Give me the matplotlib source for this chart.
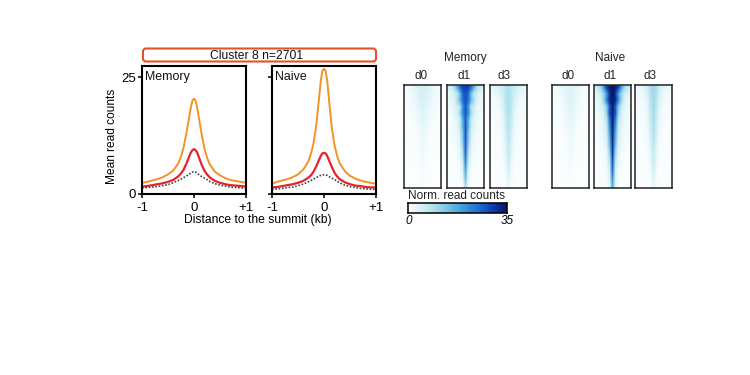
import numpy as np
import matplotlib
matplotlib.use('Agg')
import matplotlib.pyplot as plt
from matplotlib.colors import LinearSegmentedColormap
from matplotlib.patches import FancyBboxPatch

plt.rcParams['font.family'] = ['Liberation Sans', 'DejaVu Sans']

W, H = 750, 375

# line profiles
dist = [-1, -0.9, -0.8, -0.7, -0.6, -0.5, -0.4, -0.3, -0.25, -0.2, -0.15, -0.1, -0.06, -0.03, 0,
        0.03, 0.06, 0.1, 0.15, 0.2, 0.25, 0.3, 0.4, 0.5, 0.6, 0.7, 0.8, 0.9, 1]
mem_d1 = [2.4, 2.6, 2.9, 3.2, 3.6, 4.2, 5.0, 6.6, 8.0, 10.0, 12.8, 16.0, 18.6, 20.0, 20.4,
          20.0, 18.6, 15.9, 12.6, 9.8, 7.8, 6.4, 4.8, 4.0, 3.4, 3.0, 2.8, 2.6, 2.4]
mem_d3 = [1.6, 1.7, 1.9, 2.1, 2.3, 2.6, 3.0, 3.8, 4.4, 5.2, 6.4, 7.8, 8.9, 9.4, 9.6,
          9.4, 8.9, 7.7, 6.2, 5.0, 4.2, 3.6, 2.8, 2.4, 2.1, 1.9, 1.8, 1.7, 1.6]
mem_d0 = [1.3, 1.4, 1.5, 1.6, 1.8, 2.0, 2.4, 2.9, 3.2, 3.5, 3.8, 4.2, 4.5, 4.7, 4.8,
          4.7, 4.5, 4.1, 3.7, 3.4, 3.1, 2.7, 2.2, 1.9, 1.7, 1.5, 1.4, 1.3, 1.3]
nai_d1 = [2.2, 2.6, 2.9, 3.2, 3.6, 4.2, 5.2, 7.0, 8.6, 11.0, 14.6, 20.0, 24.4, 26.4, 26.8,
          26.4, 24.4, 19.8, 14.2, 10.6, 8.2, 6.6, 4.9, 3.9, 3.3, 2.9, 2.6, 2.4, 2.2]
nai_d3 = [1.4, 1.5, 1.7, 1.9, 2.1, 2.4, 2.8, 3.5, 4.0, 4.8, 5.9, 7.2, 8.2, 8.7, 8.8,
          8.7, 8.2, 7.1, 5.8, 4.6, 3.8, 3.2, 2.5, 2.1, 1.8, 1.7, 1.5, 1.4, 1.4]
nai_d0 = [1.0, 1.1, 1.2, 1.4, 1.5, 1.8, 2.1, 2.6, 2.9, 3.2, 3.5, 3.8, 4.0, 4.1, 4.1,
          4.1, 4.0, 3.7, 3.4, 3.1, 2.8, 2.4, 1.9, 1.6, 1.4, 1.2, 1.1, 1.0, 1.0]

# heatmap half rows: summit outwards to panel edge, top row first
hm_mem_d0 = [[5, 5, 4, 3, 2, 1.5, 1], [5, 4.5, 3.5, 2.5, 1.5, 1, 0.8], [4, 4, 3, 2, 1.2, 0.8, 0.6],
             [4, 3.5, 2.5, 1.5, 1, 0.6, 0.5], [3.5, 3, 2, 1.2, 0.7, 0.5, 0.4], [3.5, 2.5, 1.5, 0.8, 0.5, 0.4, 0.3],
             [3, 2, 1, 0.6, 0.4, 0.3, 0.2], [2.5, 1.5, 0.8, 0.4, 0.3, 0.2, 0.2], [2.5, 1.2, 0.6, 0.3, 0.2, 0.2, 0.1],
             [2, 1, 0.5, 0.3, 0.2, 0.1, 0.1], [2, 0.8, 0.4, 0.2, 0.1, 0.1, 0.1], [1.5, 0.6, 0.3, 0.2, 0.1, 0.1, 0],
             [1.2, 0.5, 0.2, 0.1, 0.1, 0, 0], [1, 0.4, 0.2, 0.1, 0, 0, 0], [0.8, 0.3, 0.1, 0.1, 0, 0, 0],
             [0.6, 0.2, 0.1, 0, 0, 0, 0]]
hm_mem_d1 = [[30, 29, 24, 16, 9, 6, 5], [28, 25, 14, 7, 6, 3, 2], [28, 24, 15, 9, 4, 3, 2],
             [27, 20, 8, 6, 2.5, 2, 1.5], [27, 21, 10, 4, 3, 1.5, 1], [26, 16, 6, 3.5, 2, 1.2, 0.8],
             [27, 16, 7, 3, 1.5, 1, 0.6], [27, 13, 5, 2.5, 1.2, 0.8, 0.5], [26, 13, 4, 2, 1, 0.6, 0.4],
             [26, 11, 3, 1.5, 0.8, 0.4, 0.3], [25, 9, 2.5, 1.2, 0.6, 0.3, 0.2], [23, 7, 2, 0.8, 0.4, 0.2, 0.2],
             [20, 5, 1.5, 0.6, 0.3, 0.2, 0.1], [17, 3.5, 1, 0.4, 0.2, 0.1, 0.1], [14, 2.5, 0.7, 0.3, 0.1, 0.1, 0],
             [10, 1.5, 0.4, 0.2, 0.1, 0, 0]]
hm_mem_d3 = [[9, 8, 6, 5, 4, 3, 2.5], [9, 8, 5.5, 4, 2.5, 2, 1.5], [9, 8, 4.5, 2.5, 1.5, 1.2, 1],
             [9, 7.5, 4, 2, 1.2, 1, 0.8], [9, 7, 3, 1.5, 1, 0.8, 0.6], [8.5, 6.5, 2.5, 1.2, 0.8, 0.6, 0.4],
             [8.5, 6, 2, 1, 0.6, 0.4, 0.3], [8, 5, 1.8, 0.8, 0.5, 0.3, 0.2], [8, 4.5, 1.5, 0.6, 0.4, 0.2, 0.2],
             [7.5, 4, 1.2, 0.5, 0.3, 0.2, 0.1], [7, 3.5, 1, 0.4, 0.2, 0.2, 0.1], [6.5, 2.5, 0.8, 0.3, 0.2, 0.1, 0.1],
             [5.5, 2, 0.6, 0.2, 0.1, 0.1, 0.1], [4.5, 1.5, 0.4, 0.2, 0.1, 0.1, 0], [3.5, 1, 0.3, 0.1, 0.1, 0, 0],
             [2.5, 0.6, 0.2, 0.1, 0, 0, 0]]
hm_nai_d0 = [[4, 3.5, 3, 2.5, 1.5, 1.2, 1], [4, 3.5, 2.5, 1.8, 1.2, 0.8, 0.6], [4, 3.5, 2.2, 1.4, 0.8, 0.6, 0.5],
             [3.5, 3, 2, 1, 0.6, 0.5, 0.4], [3.5, 2.5, 1.5, 0.8, 0.5, 0.4, 0.3], [3, 2.2, 1.2, 0.6, 0.4, 0.3, 0.2],
             [2.5, 1.8, 0.8, 0.5, 0.3, 0.2, 0.2], [2.5, 1.4, 0.6, 0.4, 0.2, 0.2, 0.1], [2, 1.2, 0.5, 0.3, 0.2, 0.1, 0.1],
             [2, 1, 0.4, 0.2, 0.1, 0.1, 0], [1.5, 0.8, 0.3, 0.2, 0.1, 0, 0], [1.2, 0.6, 0.2, 0.1, 0, 0, 0],
             [1, 0.4, 0.2, 0.1, 0, 0, 0], [0.8, 0.3, 0.1, 0, 0, 0, 0], [0.6, 0.2, 0.1, 0, 0, 0, 0],
             [0.4, 0.1, 0, 0, 0, 0, 0]]
hm_nai_d1 = [[35, 34, 30, 20, 11, 8, 6], [35, 31, 20, 11, 7, 4, 3], [34, 32, 22, 12, 5, 3, 2],
             [34, 27, 13, 7, 4, 2.5, 2], [33, 28, 12, 5, 3, 2, 1.5], [33, 23, 9, 4, 2.5, 1.5, 1],
             [33, 21, 7, 3.5, 2, 1.2, 0.8], [32, 18, 6, 3, 1.5, 1, 0.6], [32, 16, 5, 2.5, 1.2, 0.8, 0.5],
             [31, 14, 4, 2, 1, 0.6, 0.4], [30, 11, 3, 1.5, 0.8, 0.4, 0.3], [28, 9, 2.5, 1, 0.5, 0.3, 0.2],
             [26, 7, 2, 0.8, 0.4, 0.2, 0.1], [24, 5, 1.5, 0.5, 0.3, 0.1, 0.1], [20, 4, 1, 0.4, 0.2, 0.1, 0],
             [17, 3, 0.6, 0.2, 0.1, 0, 0]]
hm_nai_d3 = [[10, 9.5, 6, 4, 2.5, 2, 1.5], [10, 9, 5, 3, 2, 1.5, 1], [10, 8.5, 4, 2.2, 1.5, 1, 0.8],
             [10, 8, 3.2, 1.8, 1, 0.8, 0.6], [9.5, 7, 2.8, 1.4, 0.9, 0.6, 0.4], [9.5, 6.5, 2.4, 1.1, 0.7, 0.4, 0.3],
             [9, 6, 2, 0.9, 0.6, 0.3, 0.2], [9, 5, 1.6, 0.7, 0.4, 0.3, 0.2], [8.5, 4.5, 1.2, 0.6, 0.3, 0.2, 0.1],
             [8, 4, 1, 0.4, 0.2, 0.2, 0.1], [7.5, 3, 0.8, 0.3, 0.2, 0.1, 0.1], [7, 2.5, 0.6, 0.2, 0.1, 0.1, 0.1],
             [6, 2, 0.4, 0.2, 0.1, 0.1, 0], [5, 1.5, 0.3, 0.1, 0.1, 0, 0], [4, 1, 0.2, 0.1, 0, 0, 0],
             [3, 0.6, 0.2, 0.1, 0, 0, 0]]

cmap = LinearSegmentedColormap.from_list('reads', [(0, '#fbfeff'), (0.22, '#bde9f0'), (0.55, '#3f9fdc'),
                                                   (0.8, '#1050c8'), (1, '#07145f')])


def make_ax(x0, y0, x1, y1):
    # pixel box, y measured from the top of the picture
    return fig.add_axes([x0 / W, 1 - y1 / H, (x1 - x0) / W, (y1 - y0) / H])


def heatmap(x0, half_rows, x1):
    ax = make_ax(x0, 85, x1, 188)
    half = np.array(half_rows)
    full = np.hstack([half[:, :0:-1], half])
    ax.imshow(full, cmap=cmap, vmin=0, vmax=35, aspect='auto', interpolation='bilinear')
    ax.set_xticks([])
    ax.set_yticks([])
    for s in ax.spines.values():
        s.set_linewidth(1.1)
        s.set_color('#222222')
    return ax


fig = plt.figure(figsize=(W / 100, H / 100), dpi=100)

# line panels
panels = [(142, 246, 'Memory', mem_d1, mem_d3, mem_d0), (272, 376, 'Naive', nai_d1, nai_d3, nai_d0)]
for i, (x0, x1, name, d1, d3, d0) in enumerate(panels):
    ax = make_ax(x0, 66, x1, 194)
    ax.plot(dist, d1, color='#f39325', lw=1.4)
    ax.plot(dist, d3, color='#e5242a', lw=1.6)
    ax.plot(dist, d0, color='#444444', lw=1.2, ls=(0, (1, 1)))
    ax.set_xlim(-1, 1)
    ax.set_ylim(0, 27.4)
    ax.set_xticks([-1, 0, 1])
    ax.set_xticklabels(['-1', '0', '+1'], fontsize=9.5)
    ax.set_yticks([0, 25])
    ax.set_yticklabels(['0', '25'] if i == 0 else ['', ''], fontsize=9.5)
    ax.tick_params(width=1.2, length=3, color='#111111')
    ax.tick_params(axis='x', pad=2.5)
    ax.tick_params(axis='y', pad=1.5)
    for s in ax.spines.values():
        s.set_linewidth(1.5)
    ax.text(0.03, 0.915, name, transform=ax.transAxes, fontsize=8.9, va='center', color='#111111')

fig.text(112 / W, 1 - 136 / H, 'Mean read counts', fontsize=8.6, rotation=90, ha='center', va='center')
fig.text(257.5 / W, 1 - 220.5 / H, 'Distance to the summit (kb)', fontsize=8.7, ha='center', va='center')

# cluster header box, on an overlay in pixel units
over = make_ax(0, 0, W, H)
over.set_xlim(0, W)
over.set_ylim(H, 0)
over.axis('off')
over.add_patch(FancyBboxPatch((143, 48.5), 233, 13, boxstyle='round,pad=0,rounding_size=3',
                              fc='white', ec='#e8502a', lw=1.5))
over.text(257, 56, 'Cluster 8 n=2701', fontsize=8.7, ha='center', va='center', color='#111111')

# heatmaps
heatmap(404, hm_mem_d0, 441)
heatmap(447, hm_mem_d1, 484)
heatmap(490, hm_mem_d3, 527)
heatmap(552, hm_nai_d0, 589)
heatmap(594, hm_nai_d1, 631)
heatmap(635, hm_nai_d3, 672)

for x, t in [(465, 'Memory'), (610, 'Naive')]:
    fig.text(x / W, 1 - 58 / H, t, fontsize=8.5, ha='center', va='center', color='#222222')
for x, t in [(421, 'd0'), (464, 'd1'), (504, 'd3'), (568, 'd0'), (610, 'd1'), (650, 'd3')]:
    fig.text(x / W, 1 - 76 / H, t, fontsize=8.5, ha='center', va='center', color='#222222')

# colour bar
cax = make_ax(408, 203, 507, 213)
cax.imshow(np.linspace(0, 35, 256)[None, :], cmap=cmap, vmin=0, vmax=35, aspect='auto')
cax.set_xticks([])
cax.set_yticks([])
for s in cax.spines.values():
    s.set_linewidth(1.1)
fig.text(408 / W, 1 - 196 / H, 'Norm. read counts', fontsize=8.5, ha='left', va='center', color='#222222')
fig.text(405 / W, 1 - 220.5 / H, '0', fontsize=8.5, style='italic', ha='left', va='center')
fig.text(514 / W, 1 - 220.5 / H, '35', fontsize=8.5, style='italic', ha='right', va='center')

fig.savefig('out.png', dpi=100)
